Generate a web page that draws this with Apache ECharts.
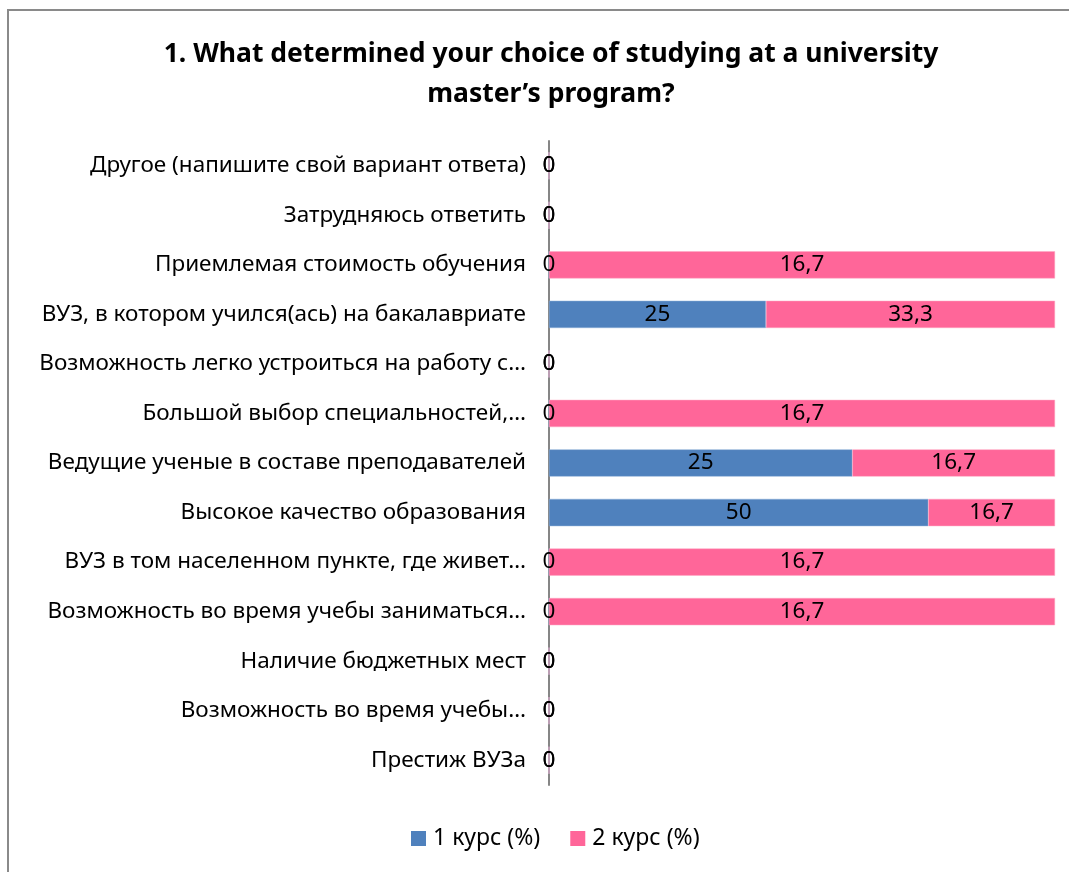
<!DOCTYPE html>
<html>
<head>
<meta charset="utf-8">
<script src="https://cdn.jsdelivr.net/npm/echarts@6/dist/echarts.min.js"></script>
<style>
html,body{margin:0;padding:0;background:#fff;}
#chart{width:1069px;height:872px;}
</style>
</head>
<body>
<div id="chart"></div>
<script>
var categories = [
  'Другое (напишите свой вариант ответа)',
  'Затрудняюсь ответить',
  'Приемлемая стоимость обучения',
  'ВУЗ, в котором учился(ась) на бакалавриате',
  'Возможность легко устроиться на работу с…',
  'Большой выбор специальностей,…',
  'Ведущие ученые в составе преподавателей',
  'Высокое качество образования',
  'ВУЗ в том населенном пункте, где живет…',
  'Возможность во время учебы заниматься…',
  'Наличие бюджетных мест',
  'Возможность во время учебы…',
  'Престиж ВУЗа'
];
var course1 = [0, 0, 0, 25, 0, 0, 25, 50, 0, 0, 0, 0, 0];
var course2 = [0, 0, 16.7, 33.3, 0, 16.7, 16.7, 16.7, 16.7, 16.7, 0, 0, 0];
var seriesNames = ['1 курс (%)', '2 курс (%)'];

function share(arr, i) {
  var t = course1[i] + course2[i];
  return t === 0 ? 0 : arr[i] / t * 100;
}
function mk(arr) {
  return arr.map(function (v, i) { return { value: share(arr, i), raw: v }; });
}
var labelFmt = function (p) { return String(p.data.raw).replace('.', ','); };
var FONT = '"Noto Sans", "Open Sans", sans-serif';

var chart = echarts.init(document.getElementById('chart'), null, { renderer: 'canvas' });
chart.setOption({
  animation: false,
  title: {
    text: '1. What determined your choice of studying at a university\nmaster’s program?',
    left: 546,
    textAlign: 'center',
    top: 29,
    textStyle: { fontFamily: FONT, fontSize: 26.5, fontWeight: 'bold', color: '#000', lineHeight: 40 }
  },
  legend: {
    bottom: 17,
    left: 406,
    itemWidth: 15,
    itemHeight: 15,
    itemGap: 30,
    icon: 'rect',
    itemStyle: { borderWidth: 0 },
    textStyle: { fontFamily: FONT, fontSize: 23, color: '#000', padding: [0, 0, 0, 2] },
    data: seriesNames
  },
  graphic: [{
    type: 'rect',
    shape: { x: 8, y: 10, width: 1200, height: 1000 },
    style: { fill: 'none', stroke: '#8a8a8a', lineWidth: 2 },
    silent: true
  }],
  grid: { left: 549, right: 14, top: 141, bottom: 87 },
  xAxis: {
    type: 'value', min: 0, max: 100,
    show: false
  },
  yAxis: {
    type: 'category',
    data: categories,
    inverse: true,
    axisLine: { show: true, lineStyle: { color: '#868686', width: 2 } },
    axisTick: { show: false },
    axisLabel: { fontFamily: FONT, fontSize: 22.5, color: '#000', margin: 23 }
  },
  series: [
    {
      name: seriesNames[0], type: 'bar', stack: 'a', barWidth: '55%',
      data: mk(course1),
      itemStyle: { color: '#4F81BD', borderColor: '#8fb0d8', borderWidth: 0.5 },
      label: { show: true, position: 'inside', formatter: labelFmt, fontFamily: FONT, fontSize: 22.5, color: '#000' }
    },
    {
      name: seriesNames[1], type: 'bar', stack: 'a', barWidth: '55%',
      data: mk(course2),
      itemStyle: { color: '#FF6699', borderColor: '#ffa6c2', borderWidth: 0.5 },
      label: { show: true, position: 'inside', formatter: labelFmt, fontFamily: FONT, fontSize: 22.5, color: '#000' }
    }
  ]
});
</script>
</body>
</html>
